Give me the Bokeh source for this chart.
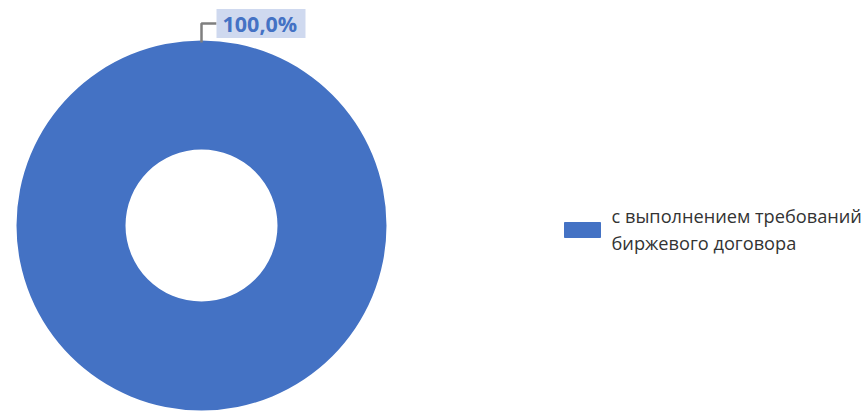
import numpy as np
from bokeh.plotting import figure
from bokeh.models import Range1d, Label, ColumnDataSource
from bokeh.core.properties import value
from bokeh.embed import file_html
from bokeh.resources import INLINE

categories = ["с выполнением требований\nбиржевого договора"]
values = [100.0]
labels = ["100,0%"]
colors = ["#4472C4"]

W, H = 867, 411
p = figure(width=W, height=H, output_backend="svg", toolbar_location=None,
           x_range=Range1d(0, W), y_range=Range1d(0, H), min_border=0,
           match_aspect=False)
p.axis.visible = False
p.grid.visible = False
p.outline_line_color = None
p.background_fill_color = "white"

cx, cy = 201, 186
r_out, r_in = 185, 76
vals = np.array(values)
frac = vals / vals.sum()
ends = np.pi / 2 - 2 * np.pi * np.cumsum(frac)
starts = np.concatenate([[np.pi / 2], ends[:-1]])
src = ColumnDataSource(dict(start=ends, end=starts, color=colors))
p.annular_wedge(x=cx, y=cy, inner_radius=r_in, outer_radius=r_out,
                start_angle="start", end_angle="end", color="color",
                line_color=None, source=src)

# leader line
top = cy + r_out
ly = top + 17
p.line(x=[cx, cx, cx + 15], y=[top - 2, ly, ly],
       line_color="#7F7F7F", line_width=2.5)

# label box
p.quad(left=cx + 15, right=cx + 104, bottom=ly - 14.5, top=ly + 14.5,
       fill_color="#CFD9EF", line_color=None)
lab = Label(x=cx + 21, y=ly, text=labels[0], x_units="data", y_units="data",
            text_font="Open Sans", text_font_style="bold", text_font_size="21.5px",
            text_color="#4472C4", text_baseline="middle", text_align="left")
p.add_layout(lab)

# legend
lsrc = ColumnDataSource(dict(x=[582], y=[181.5], color=colors, text=categories))
p.rect(x="x", y="y", width=36, height=15, color="color", source=lsrc)
p.text(x=611, y=182, text="text", source=lsrc, text_font=value("Open Sans"),
       text_font_size="18.2px", text_color="#333333", text_baseline="middle",
       text_align="left", text_line_height=1.14)

open("out.html", "w").write(file_html(p, INLINE))
